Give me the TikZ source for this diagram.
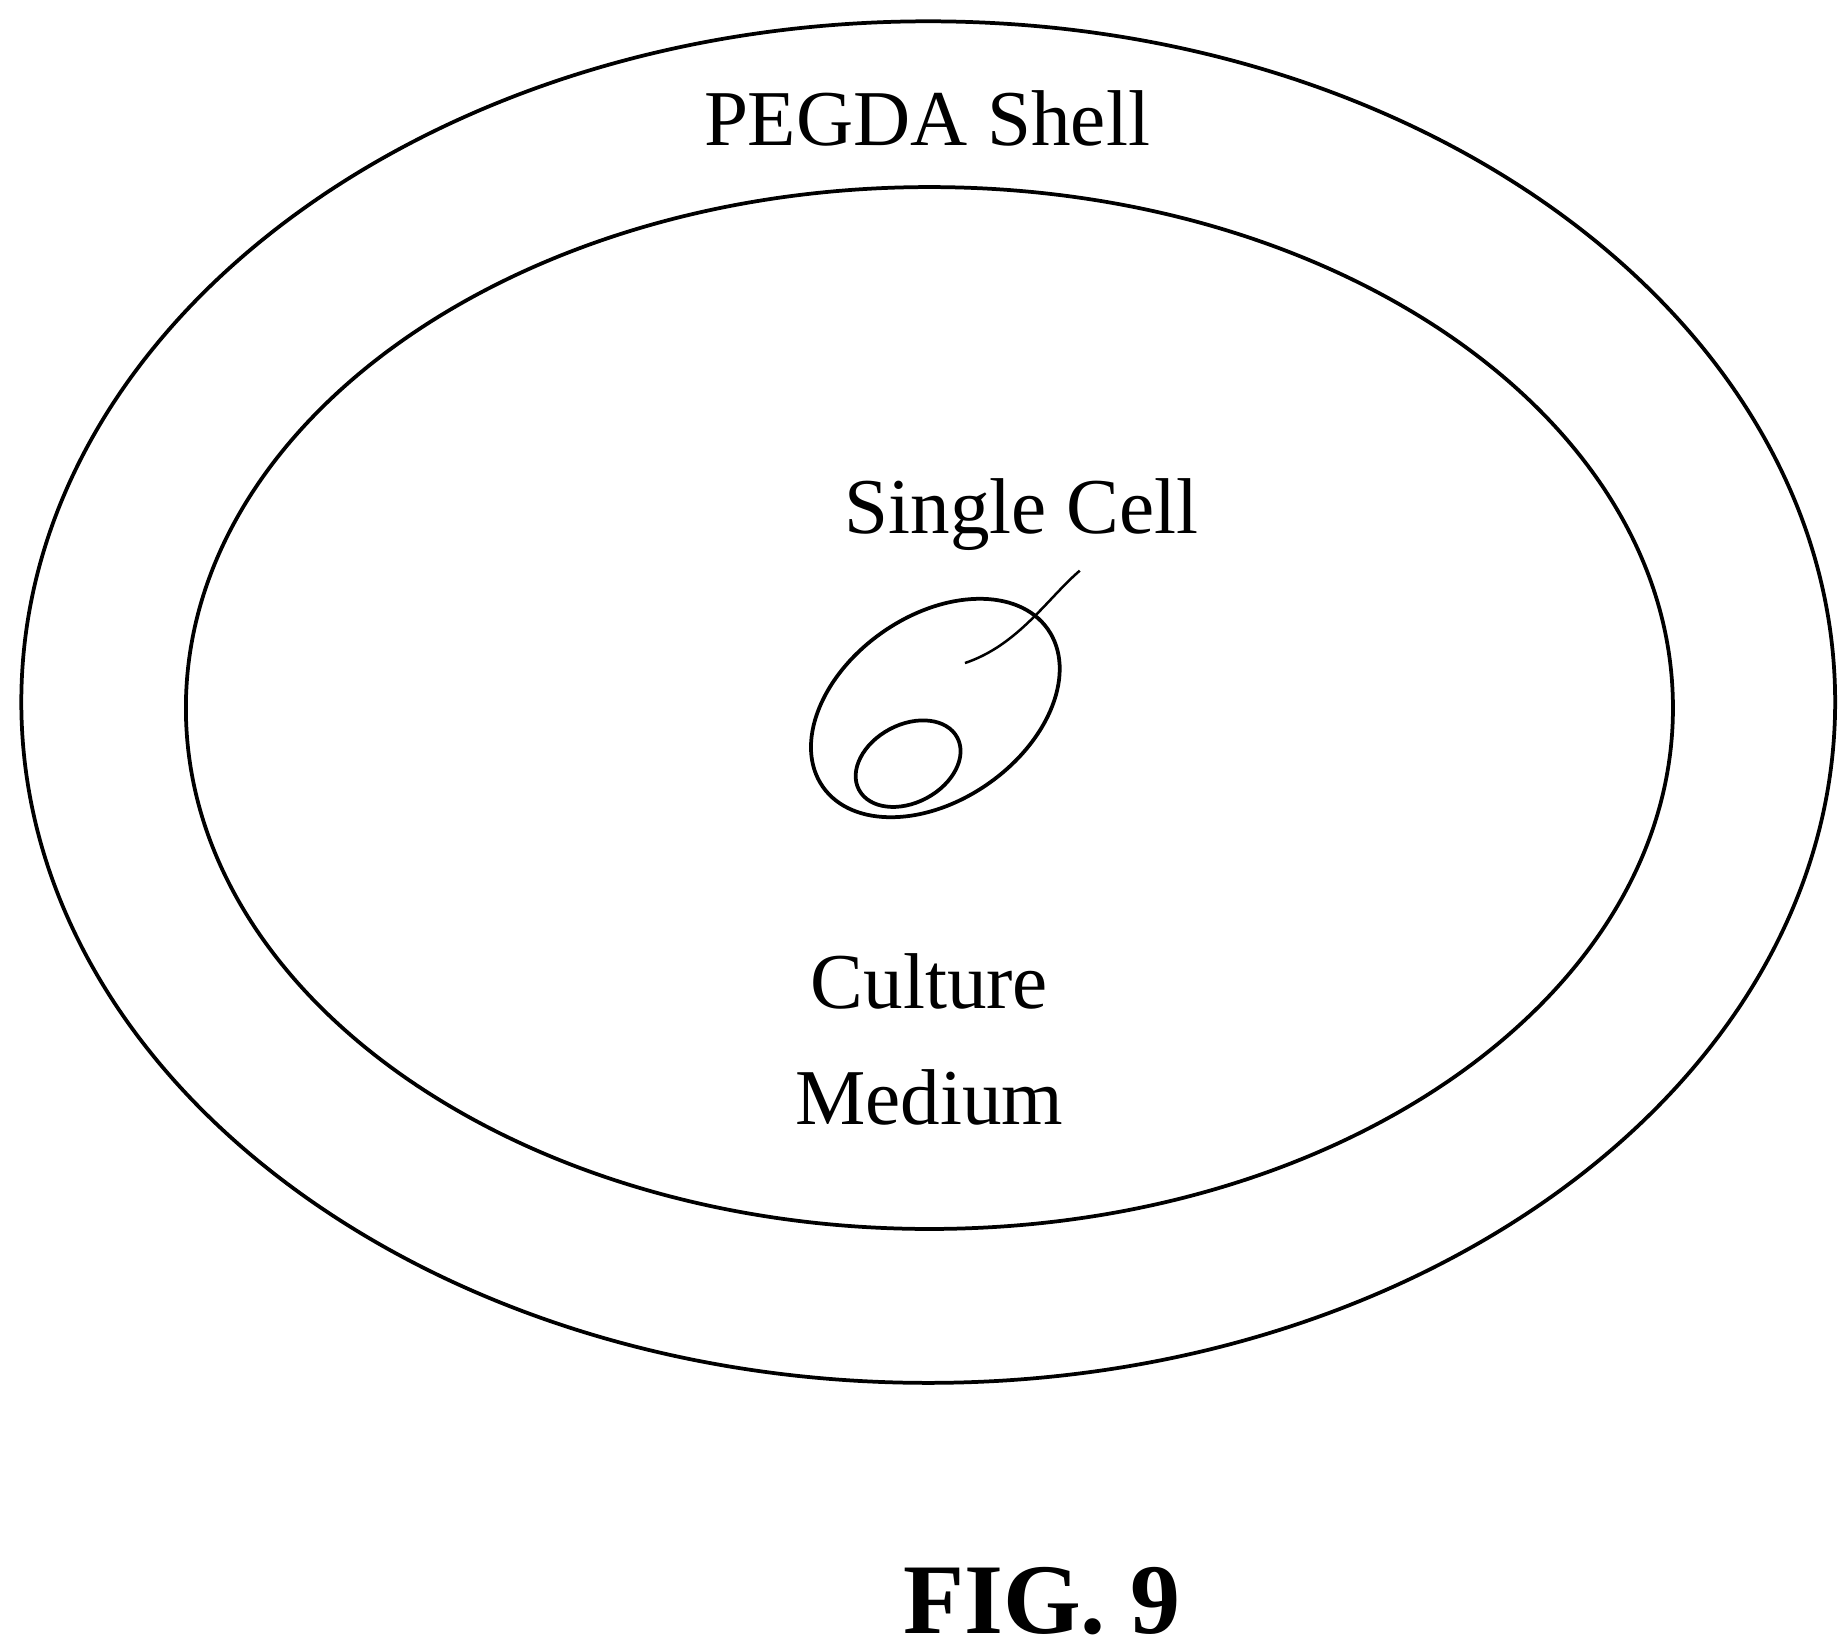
\documentclass[tikz,border=0pt]{standalone}
\usepackage{fontspec}
\setmainfont{Liberation Serif}
\begin{document}
\begin{tikzpicture}[x=0.01cm,y=-0.01cm,line width=0.9pt,
  lbl/.style={font=\fontsize{19}{23}\selectfont,inner sep=0pt}]
\useasboundingbox (0,0) rectangle (1560,1394);
\draw (784,593) ellipse [x radius=766, y radius=575];
\draw (785,598) ellipse [x radius=628, y radius=440];
\draw[rotate around={35:(790,598)}] (790,598) ellipse [x radius=116, y radius=78];
\draw[rotate around={28:(767,645)}] (767,645) ellipse [x radius=47, y radius=33];
\node[lbl] (shell) at (783,100) {PEGDA Shell};
\node[lbl] (cell) at (863,435) {Single Cell};
\node[lbl,align=center] (medium) at (785,878) {Culture\\[0.25em]Medium};
\coordinate (tip) at (815,560);
\draw[line width=0.6pt] (tip) .. controls (860,545) and (885,505) .. (912,482);
\node[font=\bfseries\fontsize{24}{28}\selectfont,inner sep=0pt] (fig) at (880,1352) {FIG. 9};
\end{tikzpicture}
\end{document}
